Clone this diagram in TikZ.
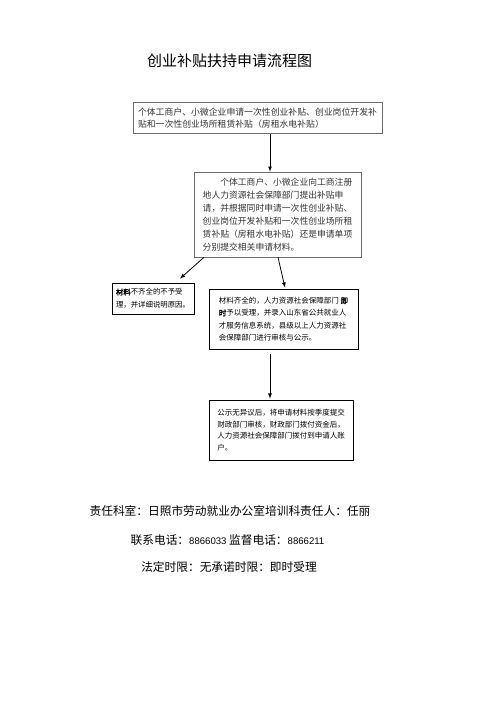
\documentclass[tikz,border=0pt]{standalone}
\usepackage{fontspec}
\setmainfont{Noto Sans CJK SC}[AutoFakeBold=2]
\newfontfamily\digitfont{Liberation Sans}
\usepackage{xcolor}
\usetikzlibrary{arrows,shadows}

\begin{document}
\begin{tikzpicture}[x=1pt,y=-1pt]
\tikzset{every node/.style={inner sep=0pt}}
\tikzset{graybox/.style={draw=gray!85!black,line width=0.6pt,align=left,text=black!80}}
\tikzset{shadowbox/.style={draw=black,line width=0.7pt,fill=white,align=left,drop shadow={shadow xshift=1.2pt,shadow yshift=-1.2pt,fill=gray!70}}}
\tikzset{flow/.style={-latex,thick}}
\tikzset{footer/.style={font=\fontsize{11.7}{14}\selectfont}}

\useasboundingbox (0,0) rectangle (500,707);

\node (title) at (229.5,61) {\fontsize{15}{15}\selectfont 创业补贴扶持申请流程图};

\node[graybox,minimum width=249pt,minimum height=31pt,font=\fontsize{8.85}{12.5}\selectfont] (apply) at (257.5,118)
  {个体工商户、小微企业申请一次性创业补贴、创业岗位开发补\\贴和一次性创业场所租赁补贴（房租水电补贴）};
\node[graybox,minimum width=167pt,minimum height=85pt,font=\fontsize{8.8}{13}\selectfont] (submit) at (277.5,214.5)
  {\hspace*{17.6pt}个体工商户、小微企业向工商注册\\地人力资源社会保障部门提出补贴申\\请，并根据同时申请一次性创业补贴、\\创业岗位开发补贴和一次性创业场所租\\赁补贴（房租水电补贴）还是申请单项\\分别提交相关申请材料。};
\node[shadowbox,minimum width=82pt,minimum height=31pt,font=\fontsize{7.4}{12.7}\selectfont] (reject) at (153,298.5)
  {\textbf{材料}不齐全的不予受\\理，并详细说明原因。};
\node[shadowbox,minimum width=149pt,minimum height=60pt,font=\fontsize{7.5}{12.3}\selectfont] (accept) at (283.5,319)
  {材料齐全的，人力资源社会保障部门 \textbf{即}\\\textbf{时}予以受理，并录入山东省公共就业人\\才服务信息系统，县级以上人力资源社\\会保障部门进行审核与公示。};
\node[shadowbox,minimum width=144pt,minimum height=60pt,font=\fontsize{7.5}{11.7}\selectfont] (pay) at (281,430)
  {公示无异议后，将申请材料按季度提交\\财政部门审核，财政部门拨付资金后，\\人力资源社会保障部门拨付到申请人账\\户。};

\draw[flow] ([xshift=12.5pt]apply.south) -- ([xshift=12.5pt]apply.south |- submit.north);
\draw[flow] ([xshift=-73.5pt]submit.south) -- ([xshift=27pt,yshift=4pt]reject.north);
\draw[flow] ([xshift=0.5pt]submit.south) -- ([xshift=1.5pt,yshift=1pt]accept.north);
\draw[flow] ([xshift=-13.5pt,yshift=-5pt]accept.south) -- ([xshift=-11pt,yshift=1pt]pay.north);

\node[footer] (office) at (230,511) {责任科室：日照市劳动就业办公室培训科责任人：任丽};
\node[footer] (phone) at (227.5,540) {联系电话：{\digitfont\fontsize{9.6}{12}\selectfont 8866033} 监督电话：{\digitfont\fontsize{9.6}{12}\selectfont 8866211}};
\node[footer] (limit) at (229,567) {法定时限：无承诺时限：即时受理};
\end{tikzpicture}
\end{document}
